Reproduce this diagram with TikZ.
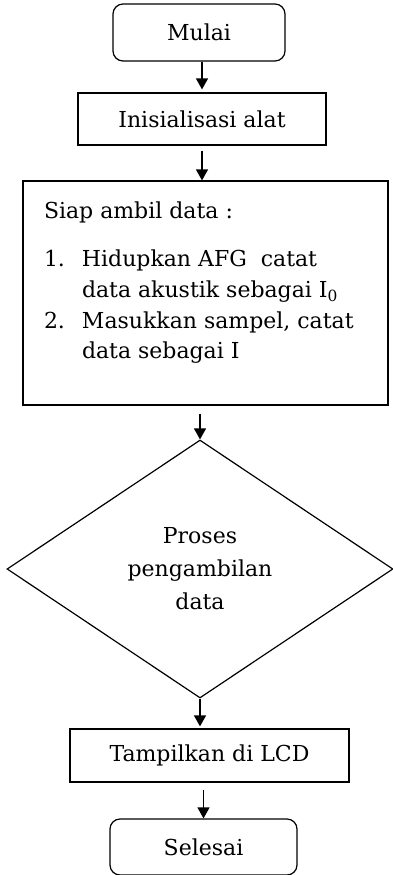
\documentclass[tikz,border=0pt]{standalone}
\usepackage{fontspec}
\setmainfont{DejaVu Serif}
\usetikzlibrary{arrows.meta,shapes.geometric}
\begin{document}
\begin{tikzpicture}[>={Triangle[length=11pt,width=12pt]}, x=1pt, y=1pt,
    font=\fontsize{22}{30.7}\selectfont,
    terminal/.style={draw, line width=1.2pt, rounded corners=10pt, minimum height=57pt},
    kotak/.style={draw, line width=1.2pt},
    keputusan/.style={draw, line width=1.2pt, diamond, align=center, inner sep=0pt,
        minimum width=386pt, minimum height=258pt, font=\fontsize{22}{33}\selectfont},
    panah/.style={->, line width=1.2pt}]
    % --- batas gambar ---
    \useasboundingbox (0,0) rectangle (392,-875);
    % --- kotak dan belah ketupat ---
    \node[terminal, minimum width=172pt] (mulai) at (199,-32.5) {Mulai};
    \node[kotak, minimum width=248pt, minimum height=52pt] (init) at (202,-119) {Inisialisasi alat};
    \node[kotak, inner xsep=21pt, inner ysep=0pt] (siap) at (205.5,-293)
        {\parbox[c][224pt][t]{323pt}{\vspace*{21pt}Siap ambil data :\\[17.3pt]
        \makebox[38pt][l]{1.}Hidupkan AFG\ \ catat\\
        \hspace*{38pt}data akustik sebagai I\textsubscript{0}\\
        \makebox[38pt][l]{2.}Masukkan sampel, catat\\
        \hspace*{38pt}data sebagai I}};
    \node[keputusan] (proses) at (200,-569) {Proses\\pengambilan\\data};
    \node[kotak, minimum width=279pt, minimum height=53pt] (lcd) at (209.5,-755.5) {Tampilkan di LCD};
    \node[terminal, minimum width=187pt, minimum height=56pt] (selesai) at (203.5,-847) {Selesai};
    % --- panah ---
    \draw[panah, shorten >=3pt] (mulai.south -| init.north) -- (init.north);
    \draw[panah, shorten <=5pt] (init.south) -- (init.south |- siap.north);
    \draw[panah, shorten <=8pt] (siap.south -| proses.north) -- (proses.north);
    \draw[panah, shorten >=2pt] (proses.south) -- (proses.south |- lcd.north);
    \draw[panah, shorten <=7pt] (lcd.south -| selesai.north) -- (selesai.north);
\end{tikzpicture}
\end{document}
